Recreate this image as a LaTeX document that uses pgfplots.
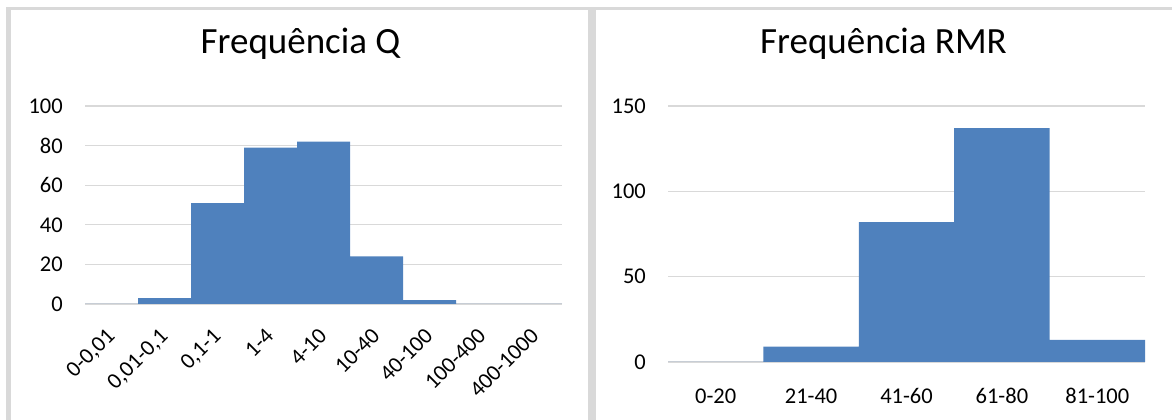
\documentclass[border=0pt]{standalone}
\usepackage{fontspec}
\setmainfont{Carlito}
\usepackage{pgfplots}
\pgfplotsset{compat=1.18}
\definecolor{barblue}{HTML}{4F81BD}
\definecolor{framegray}{HTML}{D9D9D9}
\definecolor{gridgray}{HTML}{D9D9D9}

\newcommand{\tickfont}{\fontsize{22.5}{26}\selectfont}

\pgfplotsset{
  histo/.style={
    scale only axis,
    width=477pt,
    anchor=south west,
    ybar,
    bar width=1,
    ymin=0,
    axis line style={draw=none},
    major tick length=0pt,
    ymajorgrids,
    grid style={gridgray, line width=1.3pt},
    /pgf/number format/assume math mode=true,
    yticklabel style={font=\tickfont, text=black, anchor=east, inner sep=0pt, xshift=-22pt},
    title style={font=\fontsize{37}{44}\selectfont, at={(0.5,1)}, anchor=center, yshift=56pt, xshift=-23pt},
    clip=false,
  }
}

\begin{document}
\begin{tikzpicture}
\path[use as bounding box] (0pt,0pt) rectangle (1172pt,420pt);
% chart frames
\fill[framegray] (6pt,410pt) rectangle (1172pt,413pt);
\fill[framegray] (6pt,0pt) rectangle (11pt,413pt);
\fill[framegray] (588pt,0pt) rectangle (596pt,413pt);

% left: Frequencia Q
\begin{axis}[histo,
  at={(85pt,116pt)},
  height=198pt,
  ymax=100,
  ytick={0,20,...,100},
  xmin=-0.5, xmax=8.5,
  xtick={0,...,8},
  xticklabels={{0-0,01},{0,01-0,1},{0,1-1},{1-4},{4-10},{10-40},{40-100},{100-400},{400-1000}},
  xticklabel style={font=\tickfont, text=black, inner sep=0pt, xshift=-6pt, yshift=-23pt, rotate=45, anchor=north east},
  title={Frequência Q},
]
\addplot[fill=barblue, draw=none] coordinates {
  (0,0) (1,3) (2,51) (3,79) (4,82) (5,24) (6,2) (7,0) (8,0)
};
\end{axis}

% right: Frequencia RMR
\begin{axis}[histo,
  at={(668pt,58pt)},
  height=256pt,
  ymax=150,
  ytick={0,50,100,150},
  xmin=-0.5, xmax=4.5,
  xtick={0,...,4},
  xticklabels={0-20,21-40,41-60,61-80,81-100},
  xticklabel style={font=\tickfont, text=black, anchor=center, inner sep=0pt, yshift=-34pt},
  title={Frequência RMR},
]
\addplot[fill=barblue, draw=none] coordinates {
  (0,0) (1,9) (2,82) (3,137) (4,13)
};
\end{axis}
\end{tikzpicture}
\end{document}
